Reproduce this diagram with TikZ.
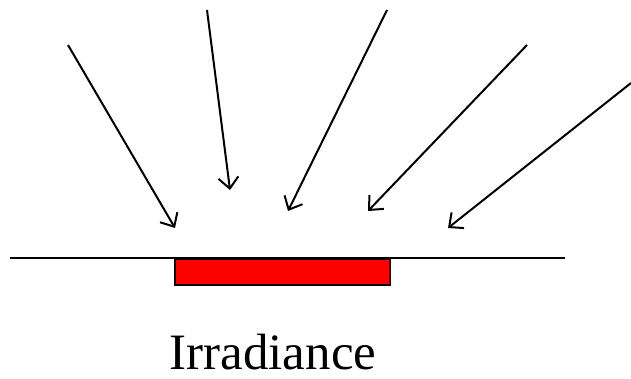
\documentclass[tikz,border=0pt]{standalone}
\usepackage{fontspec}
\setmainfont{Liberation Serif}
\usetikzlibrary{arrows.meta}
\tikzset{ray/.style={line width=2pt,-{Straight Barb[length=11pt,width=20pt,line width=2pt]}}}
\begin{document}
\begin{tikzpicture}[x=1pt,y=-1pt]
\useasboundingbox (0,0) rectangle (631,379);
\coordinate (s1) at (68,45);  \coordinate (e1) at (175,228);
\coordinate (s2) at (207,10); \coordinate (e2) at (230,190);
\coordinate (s3) at (387,10); \coordinate (e3) at (288,211);
\coordinate (s4) at (527,45); \coordinate (e4) at (368,211);
\coordinate (s5) at (631,83); \coordinate (e5) at (448,228);
\foreach \i in {1,...,5} \draw[ray] (s\i) -- (e\i);
\coordinate (l) at (10,258); \coordinate (r) at (565,258);
\draw[line width=1.5pt] (l) -- (r);
\node[draw=black, line width=2pt, fill=red, minimum width=215pt, minimum height=26pt, inner sep=0pt, anchor=north west] (plate) at (174,258) {};
\node[font=\fontsize{51}{55}\selectfont] (lbl) at (273,352) {Irradiance};
\end{tikzpicture}
\end{document}
